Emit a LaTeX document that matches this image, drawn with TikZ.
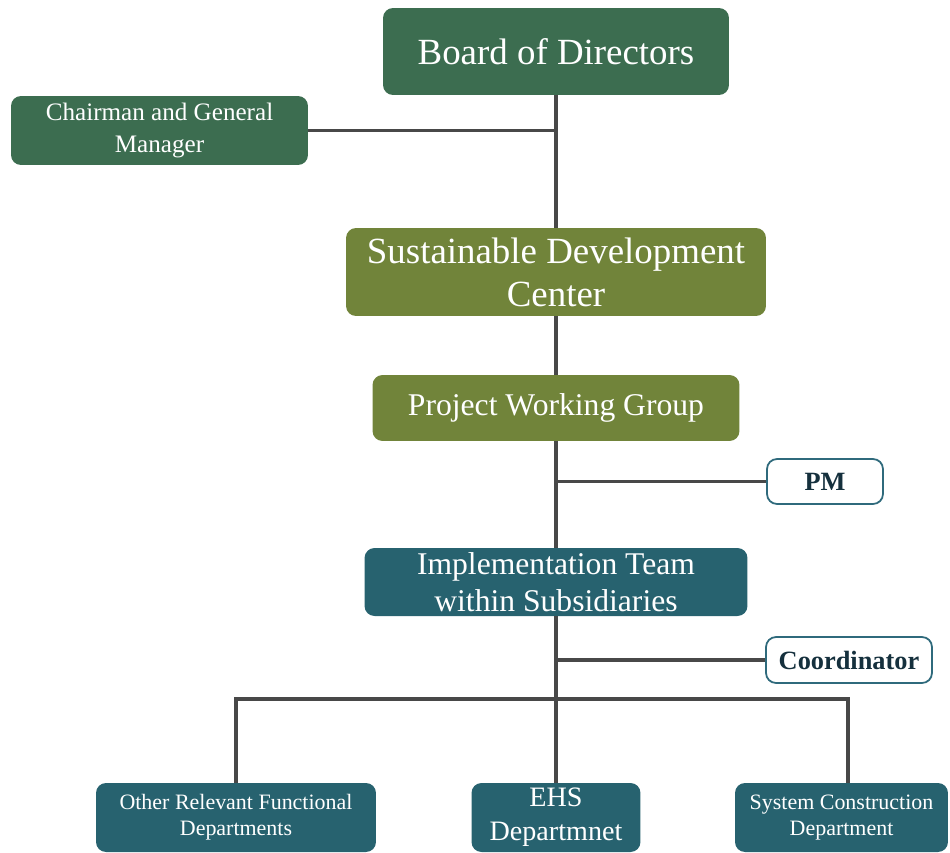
\documentclass[tikz,border=0pt]{standalone}
\usepackage{fontspec}
\setmainfont{Liberation Serif}
\usepackage{tikz}

\definecolor{boardgreen}{HTML}{3C6D50}
\definecolor{olive}{HTML}{71843A}
\definecolor{teal}{HTML}{27626F}
\definecolor{tealline}{HTML}{2F6A7C}
\definecolor{navytext}{HTML}{15303D}
\definecolor{linegray}{HTML}{484848}

\tikzset{
  unit/.style={rounded corners=0.2cm, align=center, text=white, inner sep=0pt},
  topunit/.style={unit, fill=boardgreen},
  midunit/.style={unit, fill=olive},
  lowunit/.style={unit, fill=teal},
  roleunit/.style={rounded corners=0.2cm, draw=tealline, line width=1pt, fill=white,
    text=navytext, font=\fontsize{15}{18}\selectfont\bfseries, inner sep=0pt},
  link/.style={draw=linegray, line width=2.2pt}
}

\begin{document}
\begin{tikzpicture}[x=0.02cm, y=-0.02cm]
\useasboundingbox (0,0) rectangle (950,852);

% boxes
\node[topunit, minimum width=6.92cm, minimum height=1.74cm, font=\fontsize{21}{24}\selectfont] (board) at (556,51.5) {Board of Directors};
\node[topunit, minimum width=5.94cm, minimum height=1.38cm, font=\fontsize{14.3}{18.6}\selectfont] (chair) at (159.5,130.5) {Chairman and General\\Manager};
\node[midunit, minimum width=8.4cm, minimum height=1.76cm, font=\fontsize{21}{24.4}\selectfont] (sdc) at (556,272) {Sustainable Development\\Center};
\node[midunit, minimum width=7.34cm, minimum height=1.32cm, font=\fontsize{18}{21}\selectfont] (pwg) at (556,408) {Project Working Group};
\node[roleunit, minimum width=2.32cm, minimum height=0.9cm] (pm) at (825,481.5) {PM};
\node[lowunit, minimum width=7.66cm, minimum height=1.36cm, font=\fontsize{18}{21}\selectfont] (impl) at (556,582) {Implementation Team\\within Subsidiaries};
\node[roleunit, minimum width=3.32cm, minimum height=0.92cm] (coord) at (849,660) {Coordinator};
\node[lowunit, minimum width=5.6cm, minimum height=1.38cm, font=\fontsize{12.5}{14.8}\selectfont] (other) at (236,817.5) {Other Relevant Functional\\Departments};
\node[lowunit, minimum width=3.38cm, minimum height=1.38cm, font=\fontsize{16}{19.3}\selectfont] (ehs) at (556,817.5) {EHS\\Departmnet};
\node[lowunit, minimum width=4.26cm, minimum height=1.38cm, font=\fontsize{12.5}{14.8}\selectfont] (sys) at (841.5,817.5) {System Construction\\Department};

% connectors
\coordinate (bus) at (556,699);
\path[link] (board.south) -- (sdc.north);
\path[link] (chair.east) -- (chair.east -| board.south);
\path[link] (sdc.south) -- (pwg.north);
\path[link] (pwg.south) -- (impl.north);
\path[link] (pm.west) -- (pm.west -| pwg.south);
\path[link] (impl.south) -- (bus);
\path[link] (coord.west) -- (coord.west -| impl.south);
\path[link] (other.north) |- (bus) -| ([xshift=3.7pt]sys.north);
\path[link] (bus) -- (ehs.north);
\end{tikzpicture}
\end{document}
